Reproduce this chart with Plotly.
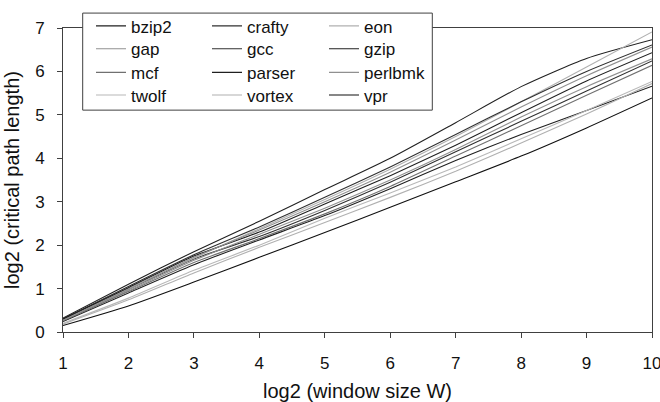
import plotly.graph_objects as go

# log2 of the instruction window size
log2_window = [1, 2, 3, 4, 5, 6, 7, 8, 9, 10]

# log2 of the critical path length per SPECint benchmark
bzip2 = [0.32, 1.10, 1.85, 2.55, 3.28, 4.00, 4.82, 5.65, 6.30, 6.73]
crafty = [0.28, 0.98, 1.68, 2.20, 2.80, 3.45, 4.15, 4.85, 5.55, 6.24]
eon = [0.28, 1.00, 1.70, 2.38, 3.05, 3.75, 4.50, 5.30, 6.10, 6.91]
gap = [0.25, 0.95, 1.65, 2.25, 2.85, 3.50, 4.20, 4.95, 5.65, 6.29]
gcc = [0.30, 1.05, 1.78, 2.42, 3.10, 3.80, 4.55, 5.30, 6.00, 6.61]
gzip = [0.24, 0.90, 1.55, 2.12, 2.68, 3.30, 3.95, 4.55, 5.10, 5.66]
mcf = [0.26, 0.93, 1.60, 2.15, 2.72, 3.35, 4.05, 4.75, 5.45, 6.14]
parser = [0.30, 1.02, 1.75, 2.30, 2.95, 3.60, 4.30, 5.05, 5.78, 6.43]
perlbmk = [0.27, 0.98, 1.72, 2.35, 3.00, 3.68, 4.42, 5.18, 5.90, 6.56]
twolf = [0.20, 0.78, 1.42, 2.00, 2.62, 3.20, 3.80, 4.45, 5.10, 5.77]
vortex = [0.18, 0.74, 1.36, 1.95, 2.52, 3.10, 3.70, 4.35, 5.02, 5.72]
vpr = [0.15, 0.60, 1.15, 1.72, 2.29, 2.87, 3.46, 4.05, 4.70, 5.39]

benchmarks = ["bzip2", "crafty", "eon", "gap", "gcc", "gzip",
              "mcf", "parser", "perlbmk", "twolf", "vortex", "vpr"]
series = [bzip2, crafty, eon, gap, gcc, gzip, mcf, parser, perlbmk, twolf, vortex, vpr]
colors = ["#202020", "#303030", "#b0b0b0", "#909090", "#303030", "#202020",
          "#707070", "#202020", "#909090", "#b8b8b8", "#b0b0b0", "#101010"]

FONT = "Liberation Sans, Arial, sans-serif"
AXIS = "#404040"

# plot-area geometry in pixels (used to place legend entries and the legend box)
W, H = 660, 402
ML, MR, MT, MB = 63, 8, 20, 70
PW, PH = W - ML - MR, H - MT - MB


def px_x(p):
    return (p - ML) / PW


def px_y(p):
    return (H - MB - p) / PH


# legend grid: 3 columns x 4 rows, filled row by row
col_left = [91, 207, 324]
row_centres = [18.3, 41.7, 66.0, 89.3]

fig = go.Figure()
legends = {}
for i, (name, vals, col) in enumerate(zip(benchmarks, series, colors)):
    key = "legend" if i == 0 else f"legend{i + 1}"
    fig.add_trace(go.Scatter(
        x=log2_window, y=vals, name=name, mode="lines",
        line=dict(color=col, width=1.1, shape="spline", smoothing=0.6),
        legend=key,
    ))
    legends[key] = dict(
        x=px_x(col_left[i % 3]), y=px_y(row_centres[i // 3]),
        xanchor="left", yanchor="middle",
        bgcolor="rgba(0,0,0,0)", borderwidth=0, itemwidth=30,
        font=dict(family=FONT, size=17, color="#111"),
    )

fig.update_layout(
    template="none",
    width=W, height=H,
    margin=dict(l=ML, r=MR, t=MT, b=MB, pad=0),
    paper_bgcolor="white", plot_bgcolor="white",
    font=dict(family=FONT, size=17, color="#111"),
    showlegend=True,
    **legends,
    xaxis=dict(
        range=[1, 10], tickvals=log2_window, ticks="outside", ticklen=5,
        tickcolor=AXIS, tickwidth=1, showgrid=False, zeroline=False,
        showline=True, linecolor=AXIS, linewidth=1, mirror=True,
        ticklabelstandoff=11, ticklabeloverflow="allow", automargin=False,
        title=dict(text="log2 (window size W)", standoff=17),
    ),
    yaxis=dict(
        range=[0, 7], tickvals=[0, 1, 2, 3, 4, 5, 6, 7], ticks="outside", ticklen=5,
        tickcolor=AXIS, tickwidth=1, showgrid=False, zeroline=False,
        showline=True, linecolor=AXIS, linewidth=1, mirror=True,
        ticklabelstandoff=9, automargin=False,
        title=dict(text="log2 (critical path length)", standoff=10),
    ),
    # white legend box with a dark border, drawn over the top frame line
    shapes=[dict(
        type="rect", xref="paper", yref="paper", layer="above",
        x0=px_x(82.7), x1=px_x(432.3), y0=px_y(104.3), y1=px_y(4.7),
        fillcolor="white", line=dict(color=AXIS, width=1),
    )],
)

fig.write_html("out.html")
